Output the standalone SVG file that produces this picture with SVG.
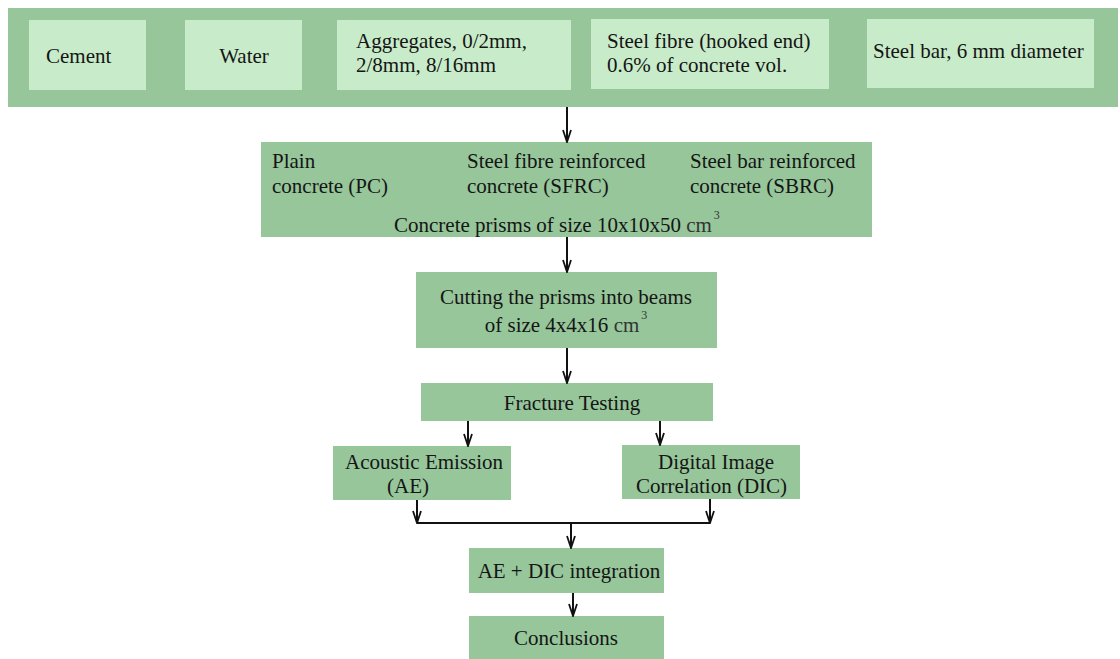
<svg xmlns="http://www.w3.org/2000/svg" width="1120" height="659" viewBox="0 0 1120 659">
<defs>
<style>
.band{fill:#96c69a;}
.lt{fill:#c8ecc9;}
.box{fill:#96c69a;}
text{font-family:"Liberation Serif","Times New Roman",serif;font-size:21px;fill:#151515;}
.c{text-anchor:middle;}
.sup{font-size:12px;fill:#333;}
.cm{fill:#333;}
.conn path{stroke:#111;stroke-width:2;fill:none;}
</style>
<marker id="arr" viewBox="0 0 14 10" refX="13" refY="5" markerWidth="14" markerHeight="10" markerUnits="userSpaceOnUse" orient="auto">
<path d="M1,1 L13,5 L1,9" fill="none" stroke="#111" stroke-width="1.8"/>
</marker>
</defs>
<rect width="1120" height="659" fill="#ffffff"/>

<g id="materials">
<rect class="band" x="8" y="8" width="1110" height="99"/>
<g id="cement"><rect class="lt" x="29" y="20" width="117" height="70"/><text x="46" y="63">Cement</text></g>
<g id="water"><rect class="lt" x="185" y="20" width="117" height="70"/><text class="c" x="244" y="63">Water</text></g>
<g id="aggregates"><rect class="lt" x="337" y="20" width="234" height="70"/><text x="356" y="48">Aggregates, 0/2mm,</text><text x="356" y="72">2/8mm, 8/16mm</text></g>
<g id="steelfibre"><rect class="lt" x="591" y="19" width="238" height="70"/><text x="607" y="48">Steel fibre (hooked end)</text><text x="607" y="72">0.6% of concrete vol.</text></g>
<g id="steelbar"><rect class="lt" x="867" y="19" width="227" height="69"/><text x="873" y="58">Steel bar, 6 mm diameter</text></g>
</g>

<g id="prisms">
<rect class="box" x="261" y="142" width="611" height="95"/>
<text x="272" y="168">Plain</text><text x="272" y="193">concrete (PC)</text>
<text x="467" y="168">Steel fibre reinforced</text><text x="467" y="193">concrete (SFRC)</text>
<text x="690" y="168">Steel bar reinforced</text><text x="690" y="193">concrete (SBRC)</text>
<text x="394" y="232">Concrete prisms of size 10x10x50 <tspan class="cm">cm</tspan><tspan class="sup" dx="2" dy="-13">3</tspan></text>
</g>

<g id="cutting">
<rect class="box" x="416" y="272" width="301" height="76"/>
<text class="c" x="566" y="304">Cutting the prisms into beams</text>
<text class="c" x="566" y="332">of size 4x4x16 <tspan class="cm">cm</tspan><tspan class="sup" dx="2" dy="-13">3</tspan></text>
</g>

<g id="fracture">
<rect class="box" x="421" y="383" width="292" height="38"/>
<text class="c" x="572" y="410">Fracture Testing</text>
</g>

<g id="ae">
<rect class="box" x="333" y="446" width="178" height="54"/>
<text x="345" y="469">Acoustic Emission</text>
<text x="387" y="493">(AE)</text>
</g>

<g id="dic">
<rect class="box" x="622" y="445" width="178" height="54"/>
<text x="658" y="469">Digital Image</text>
<text x="636" y="493">Correlation (DIC)</text>
</g>

<g id="integration">
<rect class="box" x="469" y="548" width="195" height="45"/>
<text class="c" x="569" y="578">AE + DIC integration</text>
</g>

<g id="conclusions">
<rect class="box" x="469" y="616" width="195" height="43"/>
<text class="c" x="566" y="645">Conclusions</text>
</g>

<g id="connectors" class="conn">
<path d="M567,107 V142" marker-end="url(#arr)"/>
<path d="M567,237 V272" marker-end="url(#arr)"/>
<path d="M567,348 V383" marker-end="url(#arr)"/>
<path d="M468,421 V446" marker-end="url(#arr)"/>
<path d="M660,421 V445" marker-end="url(#arr)"/>
<path d="M417,500 V523" marker-end="url(#arr)"/>
<path d="M710,499 V523" marker-end="url(#arr)"/>
<path d="M417,523 H710"/>
<path d="M571,523 V548" marker-end="url(#arr)"/>
<path d="M573,593 V616" marker-end="url(#arr)"/>
</g>
</svg>
